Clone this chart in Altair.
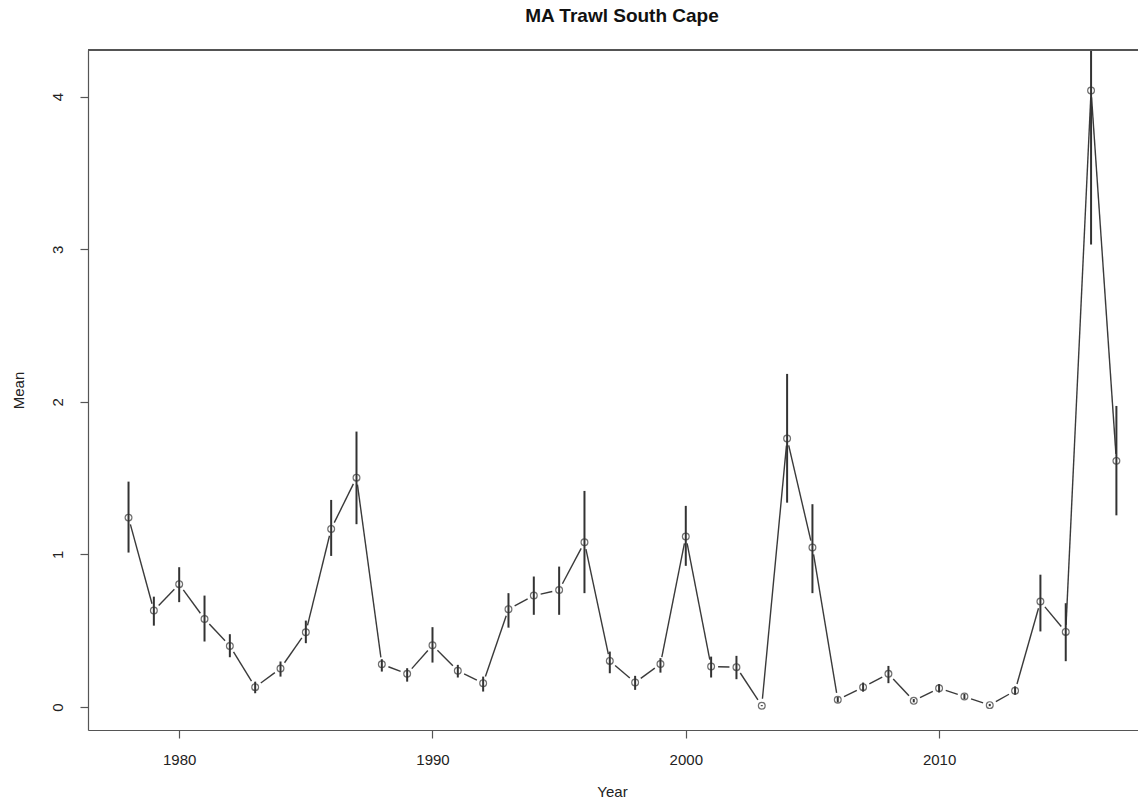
import math
import altair as alt
import pandas as pd

years = list(range(1978, 2018))
means = [1.241, 0.632, 0.805, 0.577, 0.400, 0.130, 0.252, 0.490, 1.167, 1.503,
         0.280, 0.217, 0.405, 0.237, 0.156, 0.641, 0.730, 0.767, 1.080, 0.302,
         0.160, 0.282, 1.117, 0.265, 0.261, 0.008, 1.759, 1.045, 0.047, 0.130,
         0.217, 0.040, 0.123, 0.068, 0.012, 0.106, 0.691, 0.492, 4.041, 1.613]
lower = [1.012, 0.533, 0.687, 0.429, 0.326, 0.090, 0.199, 0.418, 0.990, 1.198,
         0.232, 0.166, 0.291, 0.193, 0.101, 0.520, 0.604, 0.604, 0.746, 0.221,
         0.112, 0.225, 0.925, 0.193, 0.182, 0.005, 1.339, 0.746, 0.030, 0.100,
         0.156, 0.030, 0.095, 0.050, 0.005, 0.080, 0.495, 0.300, 3.031, 1.256]
# 2016 upper limit runs off the top of the plot in the reference: shown to the frame
upper = [1.477, 0.723, 0.916, 0.730, 0.477, 0.166, 0.298, 0.566, 1.357, 1.805,
         0.313, 0.254, 0.523, 0.276, 0.199, 0.746, 0.855, 0.920, 1.416, 0.363,
         0.204, 0.320, 1.318, 0.330, 0.335, 0.012, 2.183, 1.329, 0.065, 0.160,
         0.269, 0.052, 0.150, 0.085, 0.020, 0.135, 0.867, 0.680, 4.300, 1.973]
x_ticks = [1980, 1990, 2000, 2010]
y_ticks = [0, 1, 2, 3, 4]
title_text = ["MA Trawl South Cape"]

W, H = 1050, 680
XMIN = 1976.40
XMAX = XMIN + W / 25.33
YMIN, YMAX = -0.151, 4.306
FONT = "Liberation Sans"
LINE = "#3a3a3a"

df = pd.DataFrame({"Year": years, "Mean": means, "lo": lower, "hi": upper})

# type="b" style segments: leave a gap around each point
kx = W / (XMAX - XMIN)
ky = H / (YMAX - YMIN)
gap = 7.0
segs = []
for i in range(len(years) - 1):
    x1, y1, x2, y2 = years[i], means[i], years[i + 1], means[i + 1]
    L = math.hypot((x2 - x1) * kx, (y2 - y1) * ky)
    if L <= 2 * gap:
        continue
    f = gap / L
    segs.append({"xa": x1 + f * (x2 - x1), "ya": y1 + f * (y2 - y1),
                 "xb": x2 - f * (x2 - x1), "yb": y2 - f * (y2 - y1)})
seg_df = pd.DataFrame(segs)

xscale = alt.Scale(domain=[XMIN, XMAX], nice=False, zero=False)
yscale = alt.Scale(domain=[YMIN, YMAX], nice=False, zero=False)

xaxis = alt.Axis(values=x_ticks, format="d", grid=False, tickSize=8,
                 labelFontSize=15, labelFont=FONT, labelColor="#222",
                 labelBaseline="alphabetic", labelPadding=26, labelFlush=False,
                 title="Year", titleFontSize=15, titleFont=FONT, titleColor="#222",
                 titleFontWeight="normal", titleBaseline="alphabetic", titleY=66,
                 titleX=524,
                 domainColor="#555", tickColor="#555", domainWidth=1.2, tickWidth=1.2)
yaxis = alt.Axis(values=y_ticks, format="d", grid=False, tickSize=8,
                 labelFontSize=15, labelFont=FONT, labelColor="#222",
                 labelAngle=270, labelAlign="center", labelBaseline="alphabetic",
                 labelPadding=18, labelFlush=False,
                 title="Mean", titleFontSize=15, titleFont=FONT, titleColor="#222",
                 titleFontWeight="normal", titleAngle=270, titleBaseline="alphabetic",
                 titleX=-65, domainColor="#555", tickColor="#555",
                 domainWidth=1.2, tickWidth=1.2)

lines = alt.Chart(seg_df).mark_rule(color=LINE, strokeWidth=1.4).encode(
    x=alt.X("xa:Q", scale=xscale, axis=xaxis),
    x2="xb:Q",
    y=alt.Y("ya:Q", scale=yscale, axis=yaxis),
    y2="yb:Q",
)

bars = alt.Chart(df).mark_rule(color="#333", strokeWidth=2, clip=True).encode(
    x=alt.X("Year:Q", scale=xscale, axis=xaxis),
    y=alt.Y("lo:Q", scale=yscale, axis=yaxis),
    y2="hi:Q",
)

points = alt.Chart(df).mark_point(shape="circle", filled=False, size=46,
                                  color="#333", strokeWidth=1.2).encode(
    x=alt.X("Year:Q", scale=xscale, axis=xaxis),
    y=alt.Y("Mean:Q", scale=yscale, axis=yaxis),
)

top = alt.Chart(df).mark_rule(color="#555", strokeWidth=1.2).encode(
    x=alt.value(0), x2=alt.value(W), y=alt.value(0)
)

title = alt.Chart(pd.DataFrame({"t": title_text})).mark_text(
    font=FONT, fontSize=19, fontWeight="bold", color="#111",
    align="center", baseline="alphabetic"
).encode(text="t:N", x=alt.value(534), y=alt.value(-28))

chart = alt.layer(lines, bars, points, top, title).properties(
    width=W, height=H,
    autosize=alt.AutoSizeParams(type="none"),
    padding={"left": 80, "top": 42, "right": 0, "bottom": 67},
).configure_view(stroke=None).configure(background="white")

chart.save("out.html", embed_options={"renderer": "svg", "actions": False})
